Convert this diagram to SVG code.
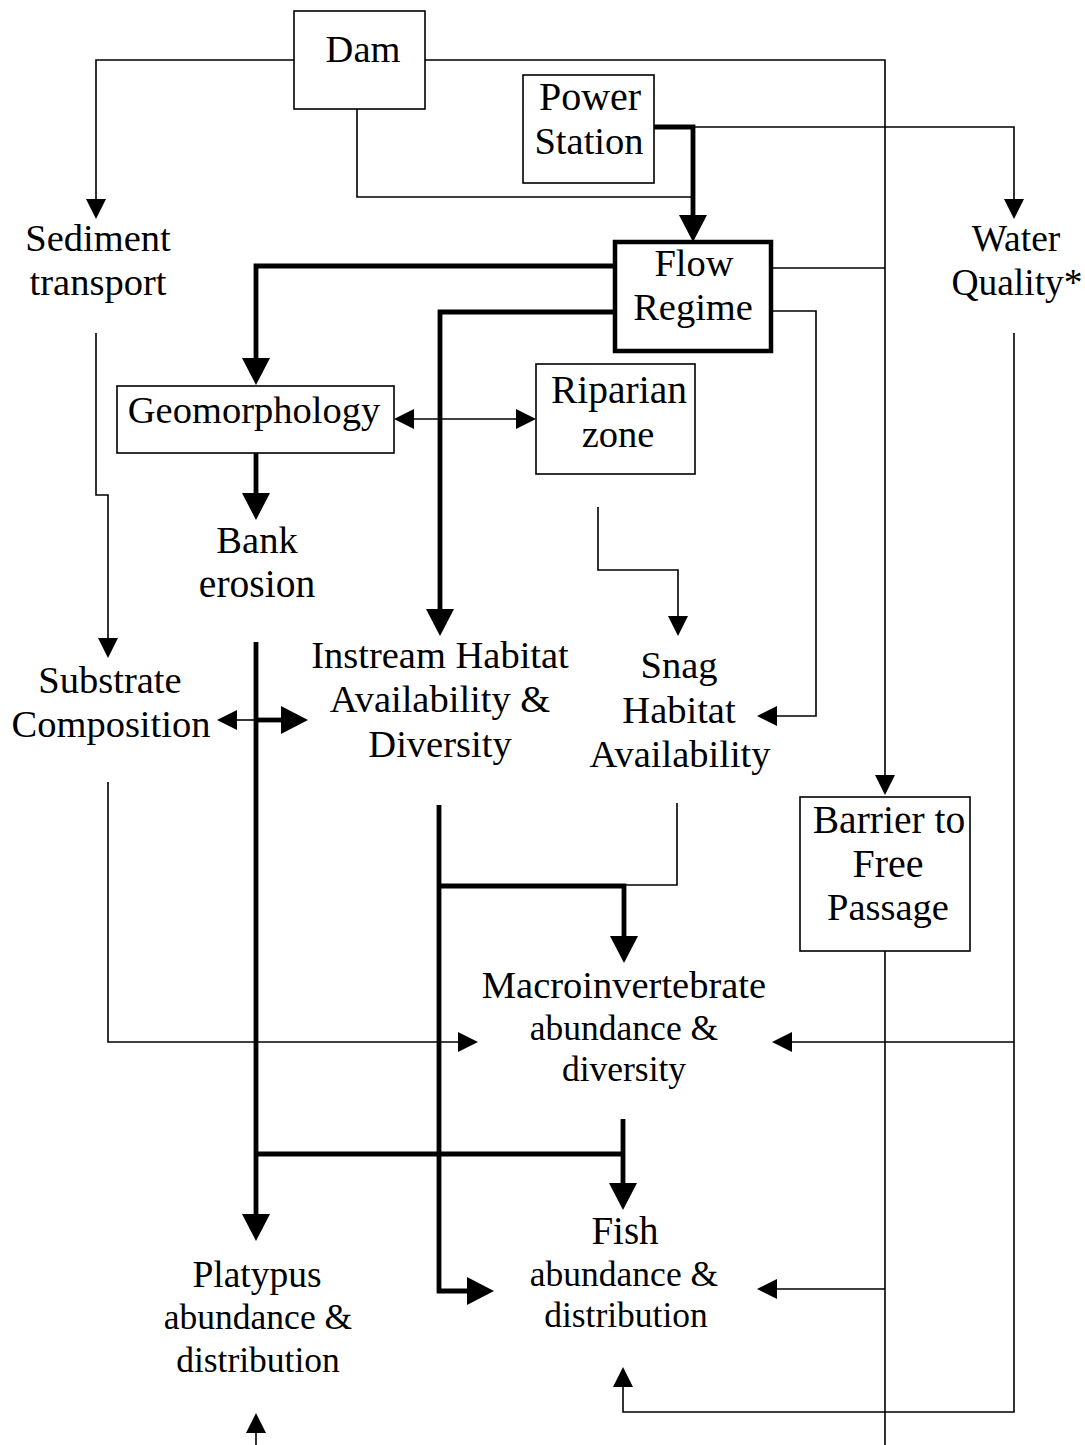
<svg xmlns="http://www.w3.org/2000/svg" width="1085" height="1445" viewBox="0 0 1085 1445">
<style>
  text { font-family: "Liberation Serif", "Times New Roman", serif; font-size: 38.5px; fill: #000; text-anchor: middle; }
  text.sub { font-size: 35.5px; }
  .box { fill: #fff; stroke: #000; stroke-width: 1.6; }
  .boxthick { fill: #fff; stroke: #000; stroke-width: 4.5; }
  .thin { fill: none; stroke: #000; stroke-width: 1.6; }
  .thick { fill: none; stroke: #000; stroke-width: 4.8; }
  .thin.a { marker-end: url(#ah); }
  .thick.a { marker-end: url(#ahT); }
</style>
<defs>
  <marker id="ah" markerUnits="userSpaceOnUse" viewBox="0 0 20 20" refX="0" refY="10" markerWidth="20" markerHeight="20" orient="auto-start-reverse">
    <path d="M0,0 L20,10 L0,20 z" fill="#000"/>
  </marker>
  <marker id="ahT" markerUnits="userSpaceOnUse" viewBox="0 0 27 28" refX="0" refY="14" markerWidth="27" markerHeight="28" orient="auto">
    <path d="M0,0 L27,14 L0,28 z" fill="#000"/>
  </marker>
</defs>
<rect width="1085" height="1445" fill="#fff"/>

<g id="connectors">
  <path class="thin a" d="M294,60 H96 V199"/>
  <path class="thin a" d="M425,60 H885 V775"/>
  <path class="thin" d="M357,109 V197 H691"/>
  <path class="thick a" d="M654,127 H693 V215"/>
  <path class="thin a" d="M693,127 H1014 V199"/>
  <path class="thick a" d="M615,266 H256 V358"/>
  <path class="thick a" d="M615,312 H440 V609"/>
  <path class="thin" d="M771,268 H885"/>
  <path class="thin a" d="M771,311 H816 V716 H777"/>
  <path class="thin" d="M414,419 H516" marker-start="url(#ah)" marker-end="url(#ah)"/>
  <path class="thick a" d="M256,453 V493"/>
  <path class="thin a" d="M96,333 V495 H108 V638"/>
  <path class="thin a" d="M598,507 V570 H678 V616"/>
  <path class="thick a" d="M256,642 V1214"/>
  <path class="thin a" d="M256,720 H237"/>
  <path class="thick a" d="M256,720 H281"/>
  <path class="thick" d="M256,1154 H624"/>
  <path class="thin a" d="M108,782 V1042 H458"/>
  <path class="thick a" d="M439,805 V1291 H467"/>
  <path class="thick a" d="M439,886 H624 V936"/>
  <path class="thin" d="M677,803 V885 H624"/>
  <path class="thick a" d="M623,1119 V1183"/>
  <path class="thin a" d="M1014,333 V1412 H623 V1387"/>
  <path class="thin a" d="M1014,1042 H792"/>
  <path class="thin" d="M885,951 V1445"/>
  <path class="thin a" d="M885,1289 H777"/>
  <path class="thin a" d="M256,1445 V1433"/>
</g>

<g id="dam">
  <rect class="box" x="294" y="11" width="131" height="98"/>
  <text x="363" y="62">Dam</text>
</g>
<g id="power-station">
  <rect class="box" x="523" y="75" width="131" height="108"/>
  <text x="590" y="110" style="font-size:40px">Power</text>
  <text x="589" y="154">Station</text>
</g>
<g id="sediment-transport">
  <text x="98" y="251">Sediment</text>
  <text x="98" y="295">transport</text>
</g>
<g id="water-quality">
  <text x="1016" y="251" style="font-size:37.5px">Water</text>
  <text x="1017" y="295" style="font-size:37.5px">Quality*</text>
</g>
<g id="flow-regime">
  <rect class="boxthick" x="615" y="242" width="156" height="109"/>
  <text x="694" y="276">Flow</text>
  <text x="693" y="320">Regime</text>
</g>
<g id="geomorphology">
  <rect class="box" x="117" y="386" width="277" height="67"/>
  <text x="254" y="423">Geomorphology</text>
</g>
<g id="riparian-zone">
  <rect class="box" x="536" y="364" width="159" height="110"/>
  <text x="619" y="403" style="font-size:39.5px">Riparian</text>
  <text x="618" y="447">zone</text>
</g>
<g id="bank-erosion">
  <text x="257" y="553">Bank</text>
  <text x="257" y="597" style="font-size:39.5px">erosion</text>
</g>
<g id="substrate-composition">
  <text x="110" y="693">Substrate</text>
  <text x="111" y="737">Composition</text>
</g>
<g id="instream-habitat">
  <text x="440" y="668">Instream Habitat</text>
  <text x="440" y="712">Availability &amp;</text>
  <text x="440" y="757">Diversity</text>
</g>
<g id="snag-habitat">
  <text x="679" y="678">Snag</text>
  <text x="679" y="723">Habitat</text>
  <text x="680" y="767">Availability</text>
</g>
<g id="barrier">
  <rect class="box" x="800" y="797" width="170" height="154"/>
  <text x="889" y="833" style="font-size:39.5px">Barrier to</text>
  <text x="888" y="877" style="font-size:40px">Free</text>
  <text x="888" y="920">Passage</text>
</g>
<g id="macroinvertebrate">
  <text x="624" y="998">Macroinvertebrate</text>
  <text class="sub" x="624" y="1040">abundance &amp;</text>
  <text class="sub" x="624" y="1081">diversity</text>
</g>
<g id="fish">
  <text x="625" y="1244" style="font-size:39px">Fish</text>
  <text class="sub" x="624" y="1286">abundance &amp;</text>
  <text class="sub" x="626" y="1327">distribution</text>
</g>
<g id="platypus">
  <text x="257" y="1287" style="font-size:37.5px">Platypus</text>
  <text class="sub" x="258" y="1329">abundance &amp;</text>
  <text class="sub" x="258" y="1372">distribution</text>
</g>
</svg>
